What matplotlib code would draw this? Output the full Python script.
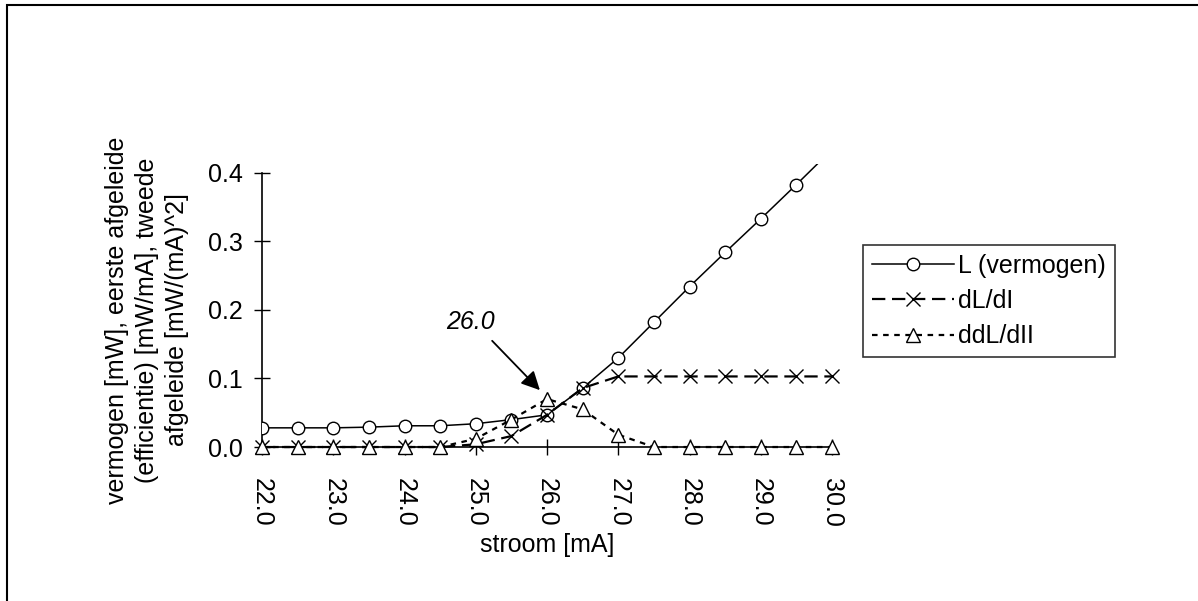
import matplotlib.pyplot as plt
from matplotlib.patches import Rectangle

plt.rcParams['font.family'] = ['Liberation Sans', 'DejaVu Sans']

# stroom [mA]
stroom = [22.0, 22.5, 23.0, 23.5, 24.0, 24.5, 25.0, 25.5, 26.0,
          26.5, 27.0, 27.5, 28.0, 28.5, 29.0, 29.5, 30.0]
# vermogen L [mW]
vermogen = [0.028, 0.028, 0.028, 0.029, 0.031, 0.031, 0.034, 0.040, 0.047,
            0.086, 0.130, 0.182, 0.234, 0.284, 0.333, 0.383, 0.434]
# eerste afgeleide dL/dI [mW/mA]
afgeleide1 = [0.0, 0.0, 0.0, 0.0, 0.0, 0.0, 0.004, 0.016, 0.047,
              0.086, 0.103, 0.103, 0.103, 0.103, 0.103, 0.103, 0.103]
# tweede afgeleide ddL/dII [mW/(mA)^2]
afgeleide2 = [0.0, 0.0, 0.0, 0.0, 0.0, 0.0, 0.012, 0.040, 0.070,
              0.055, 0.018, 0.0, 0.0, 0.0, 0.0, 0.0, 0.0]

x_ticks = [22.0, 23.0, 24.0, 25.0, 26.0, 27.0, 28.0, 29.0, 30.0]
y_ticks = [0.0, 0.1, 0.2, 0.3, 0.4]

fig = plt.figure(figsize=(11.98, 6.01), dpi=100)
ax = fig.add_axes([0.2187, 0.2562, 0.4758, 0.4709])

ax.plot(stroom, vermogen, color='black', linewidth=1.1, marker='o', markersize=9,
        markerfacecolor='white', markeredgecolor='black', markeredgewidth=1.0,
        label='L (vermogen)', zorder=3)
ax.plot(stroom, afgeleide1, color='black', linewidth=1.6, dashes=(6, 3), marker='x',
        markersize=10, markeredgewidth=1.0, label='dL/dI', zorder=4, clip_on=False)
ax.plot(stroom, afgeleide2, color='black', linewidth=1.6, dashes=(2.5, 2.5), marker='^',
        markersize=10, markerfacecolor='white', markeredgecolor='black',
        markeredgewidth=1.0, label='ddL/dII', zorder=5, clip_on=False)

ax.set_xlim(22.0, 30.0)
ax.set_ylim(0.0, 0.413)
ax.set_xticks(x_ticks)
ax.set_xticklabels([f'{v:.1f}' for v in x_ticks], rotation=-90)
ax.set_yticks(y_ticks)
ax.set_yticklabels([f'{v:.1f}' for v in y_ticks])
ax.tick_params(direction='inout', length=12, width=1.0, labelsize=18, pad=8)
ax.tick_params(axis='x', pad=16.5)

for side in ['top', 'right']:
    ax.spines[side].set_visible(False)
ax.spines['left'].set_bounds(0.0, 0.4)
ax.spines['left'].set_linewidth(1.2)
ax.spines['bottom'].set_linewidth(1.2)

ax.set_xlabel('stroom [mA]', fontsize=18, labelpad=4)

fig.text(147 / 1198, 1 - 320 / 601,
         'vermogen [mW], eerste afgeleide\n(efficientie) [mW/mA], tweede\nafgeleide [mW/(mA)^2]',
         rotation=90, ha='center', va='center', multialignment='center',
         fontsize=18, linespacing=1.3)

# pijl naar het omslagpunt
ax.annotate('', xy=(25.90, 0.083), xytext=(25.23, 0.155),
            arrowprops=dict(arrowstyle='-|>', mutation_scale=28, lw=1.3,
                            color='black', shrinkA=0, shrinkB=0), zorder=6)
ax.text(24.92, 0.182, '26.0', fontsize=18, style='italic', ha='center', va='center')

leg = fig.legend(loc='upper left', bbox_to_anchor=(863 / 1198, 1 - 245 / 601),
                 borderaxespad=0, fontsize=18, frameon=True, fancybox=False,
                 edgecolor='black', handlelength=3.3, handletextpad=0.15,
                 labelspacing=0.45, borderpad=0.35)
leg.get_frame().set_linewidth(1.2)

fig.patches.append(Rectangle((7 / 1198, -0.1), 2.0, 1.1 - 5 / 601,
                             transform=fig.transFigure, fill=False,
                             edgecolor='black', linewidth=1.5))

fig.savefig('out.png', dpi=100)
